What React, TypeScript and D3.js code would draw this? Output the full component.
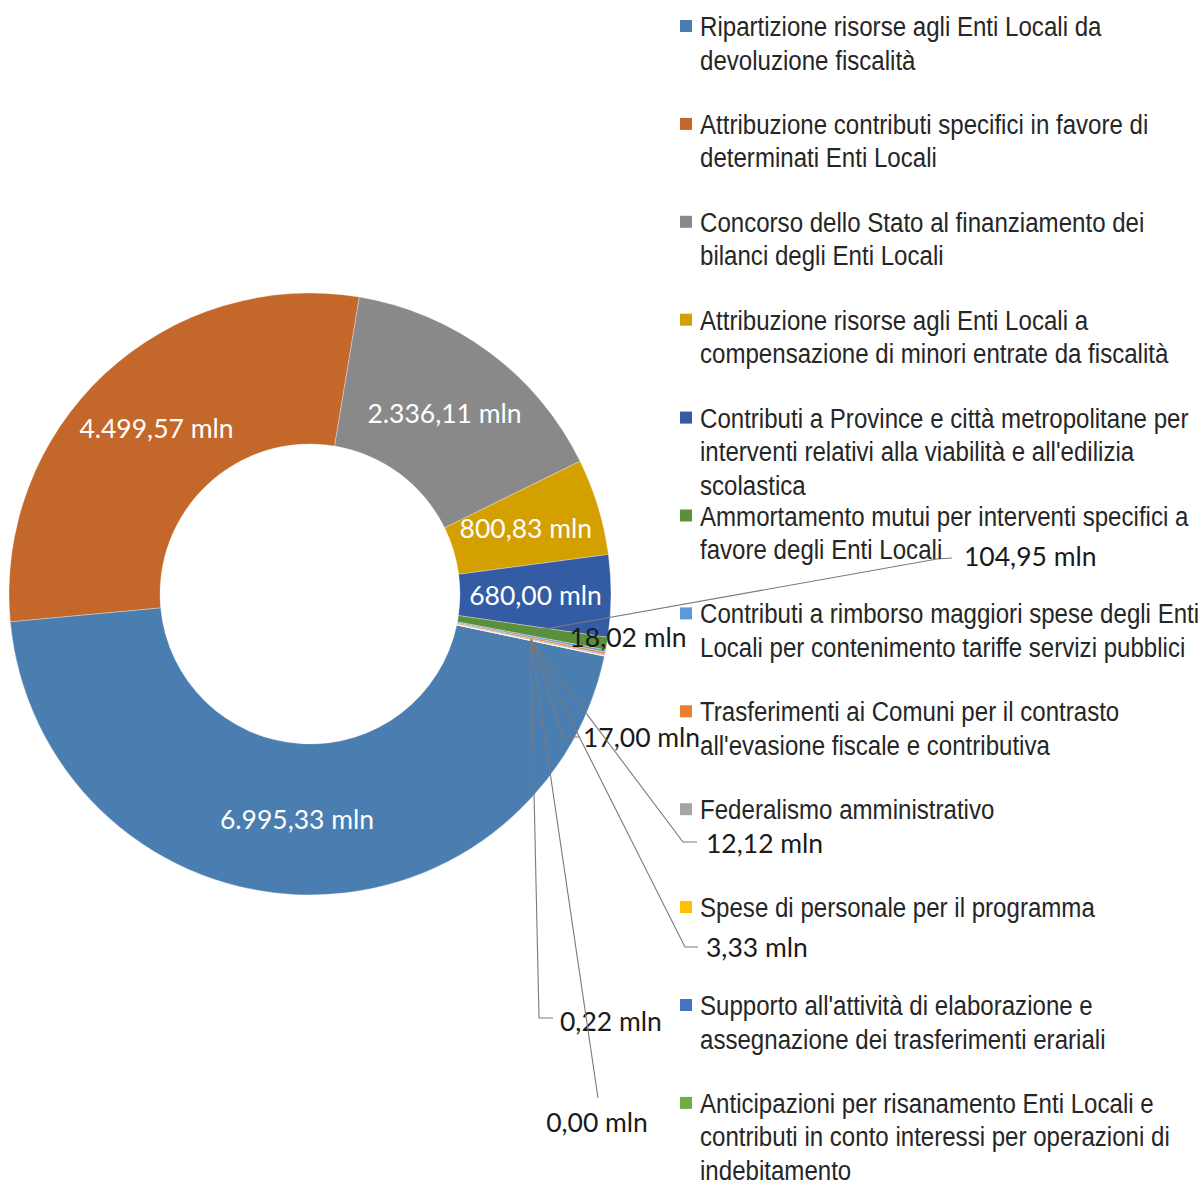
import React from "react";
import * as d3 from "d3";

const categoryLines: string[][] = [
  ["Ripartizione risorse agli Enti Locali da", "devoluzione fiscalità"],
  ["Attribuzione contributi specifici in favore di", "determinati Enti Locali"],
  ["Concorso dello Stato al finanziamento dei", "bilanci degli Enti Locali"],
  ["Attribuzione risorse agli Enti Locali a", "compensazione di minori entrate da fiscalità"],
  ["Contributi a Province e città metropolitane per", "interventi relativi alla viabilità e all'edilizia", "scolastica"],
  ["Ammortamento mutui per interventi specifici a", "favore degli Enti Locali"],
  ["Contributi a rimborso maggiori spese degli Enti", "Locali per contenimento tariffe servizi pubblici"],
  ["Trasferimenti ai Comuni per il contrasto", "all'evasione fiscale e contributiva"],
  ["Federalismo amministrativo"],
  ["Spese di personale per il programma"],
  ["Supporto all'attività di elaborazione e", "assegnazione dei trasferimenti erariali"],
  ["Anticipazioni per risanamento Enti Locali e", "contributi in conto interessi per operazioni di", "indebitamento"],
];

const values: number[] = [6995.33, 4499.57, 2336.11, 800.83, 680.0, 104.95, 18.02, 17.0, 12.12, 3.33, 0.22, 0.0];

const colors: string[] = [
  "#4a7eb0", "#c3672b", "#898989", "#d4a000", "#345ca4", "#5b8f3a",
  "#5b9bd5", "#ed7d31", "#a5a5a5", "#ffc000", "#4472c4", "#70ad47",
];

// layout for outside labels (index -> placement)
const outsideLayout: Record<number, { tx: number; ty: number; anchor: string; pts: number[][] }> = {
  5: { tx: 964, ty: 556, anchor: "start", pts: [[937, 559], [952, 558]] },
  6: { tx: 628, ty: 637, anchor: "middle", pts: [] },
  7: { tx: 583, ty: 737, anchor: "start", pts: [[563, 737], [580, 737]] },
  8: { tx: 706, ty: 843, anchor: "start", pts: [[683, 842], [697, 842]] },
  9: { tx: 706, ty: 947, anchor: "start", pts: [[685, 947], [698, 947]] },
  10: { tx: 560, ty: 1021, anchor: "start", pts: [[539, 1018], [553, 1018]] },
  11: { tx: 597, ty: 1122, anchor: "middle", pts: [[598, 1098]] },
};

const W = 1203;
const H = 1180;
const cx = 310;
const cy = 594;
const outerR = 301;
const innerR = 150;
const startDeg = 101.9;

const locale = d3.formatLocale({ decimal: ",", thousands: ".", grouping: [3], currency: ["€", ""] });
const fmt = locale.format(",.2f");

const labelFont = "Lato, 'Open Sans', sans-serif";
const legendFont = "'Liberation Sans', Arial, sans-serif";
const legendScaleX = 0.86;

export default function App() {
  const start = (startDeg * Math.PI) / 180;
  const pie = d3
    .pie<number>()
    .sort(null)
    .value((d) => d)
    .startAngle(start)
    .endAngle(start + 2 * Math.PI);
  const arcs = pie(values);
  const arc = d3.arc<d3.PieArcDatum<number>>().innerRadius(innerR).outerRadius(outerR);
  const labelArc = d3
    .arc<d3.PieArcDatum<number>>()
    .innerRadius((innerR + outerR) / 2)
    .outerRadius((innerR + outerR) / 2);

  const legendTop = 26;
  const legendStep = 97.9;
  const lineH = 33.5;

  return (
    <svg
      width={W}
      height={H}
      style={{ position: "absolute", left: 0, top: 0, display: "block", background: "#fff" }}
    >
      <g transform={`translate(${cx},${cy})`}>
        {arcs.map((a, i) => (
          <path key={i} d={arc(a) || ""} fill={colors[i]} stroke="#ffffff" strokeOpacity={0.5} strokeWidth={0.6} />
        ))}
        {arcs.map((a, i) => {
          if (i > 4) return null;
          const [x, y] = labelArc.centroid(a);
          return (
            <text
              key={"l" + i}
              x={x}
              y={y}
              dy="0.36em"
              textAnchor="middle"
              fill="#ffffff"
              fontFamily={labelFont}
              fontSize={26.5}
            >
              {fmt(values[i]) + " mln"}
            </text>
          );
        })}
      </g>
      {arcs.map((a, i) => {
        const lay = outsideLayout[i];
        if (!lay) return null;
        const [x0, y0] = labelArc.centroid(a);
        const pts: [number, number][] = [[cx + x0, cy + y0], ...lay.pts.map((p) => [p[0], p[1]] as [number, number])];
        const line = d3.line()(pts);
        return (
          <g key={"o" + i}>
            {lay.pts.length > 0 && <path d={line || ""} fill="none" stroke="#7a7a7a" strokeWidth={1.1} />}
            <text
              x={lay.tx}
              y={lay.ty}
              dy="0.36em"
              textAnchor={lay.anchor as any}
              fill="#1a1a1a"
              fontFamily={labelFont}
              fontSize={26.5}
            >
              {fmt(values[i]) + " mln"}
            </text>
          </g>
        );
      })}
      <g>
        {categoryLines.map((lines, i) => {
          const y0 = legendTop + i * legendStep;
          return (
            <g key={"g" + i}>
              <rect x={680} y={y0 - 6} width={12} height={12} fill={colors[i]} />
              {lines.map((t, j) => (
                <text
                  key={j}
                  transform={`translate(700,${y0 + j * lineH}) scale(${legendScaleX},1)`}
                  dy="0.36em"
                  fill="#262626"
                  fontFamily={legendFont}
                  fontSize={28}
                >
                  {t}
                </text>
              ))}
            </g>
          );
        })}
      </g>
    </svg>
  );
}
